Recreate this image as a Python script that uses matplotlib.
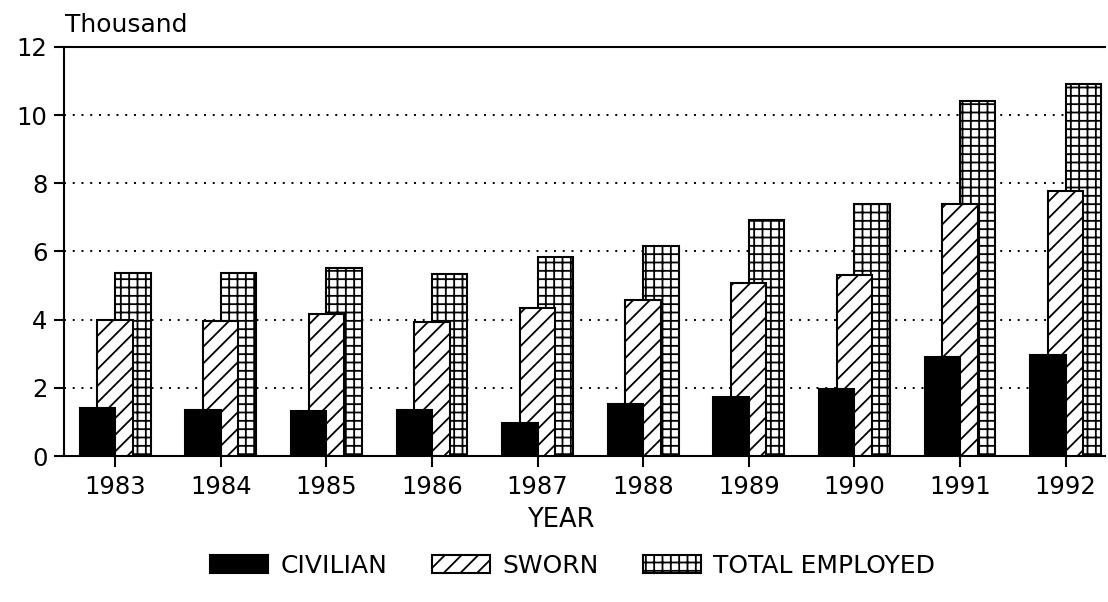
import matplotlib
matplotlib.use("Agg")
import matplotlib.pyplot as plt
import numpy as np

# Staffing levels by year, in thousands
years = ["1983", "1984", "1985", "1986", "1987", "1988", "1989", "1990", "1991", "1992"]
civilian = [1.40, 1.35, 1.32, 1.34, 0.97, 1.53, 1.74, 1.98, 2.90, 2.96]
sworn = [3.98, 3.97, 4.16, 3.94, 4.33, 4.58, 5.09, 5.31, 7.39, 7.78]
total = [5.36, 5.36, 5.52, 5.34, 5.84, 6.17, 6.92, 7.38, 10.42, 10.92]
yticks = [0, 2, 4, 6, 8, 10, 12]

plt.rcParams["font.family"] = ["DejaVu Sans"]
plt.rcParams["hatch.linewidth"] = 1.3

fig = plt.figure(figsize=(11.08, 6.02), dpi=100)
ax = fig.add_axes([0.0578, 0.2425, 0.9392, 0.6795])

x = np.arange(len(years))
w = 0.335
step = 0.168

# Back to front: total, sworn, civilian
ax.bar(x + step, total, w, facecolor="white", edgecolor="black",
       hatch="++", linewidth=1.5, zorder=2, label="TOTAL EMPLOYED")
ax.bar(x, sworn, w, facecolor="white", edgecolor="black",
       hatch="//", linewidth=1.5, zorder=3, label="SWORN")
ax.bar(x - step, civilian, w, facecolor="black", edgecolor="black",
       linewidth=1.5, zorder=4, label="CIVILIAN")

# Dotted reference lines
for v in yticks[1:-1]:
    ax.axhline(v, color="black", linestyle=(0, (1, 3.5)), linewidth=1.4, zorder=1)

ax.set_xlim(-0.484, 9.37)
ax.set_ylim(0, 12)
ax.set_yticks(yticks)
ax.set_xticks(x)
ax.set_xticklabels(years)

ax.spines["right"].set_visible(False)
for side in ["left", "bottom", "top"]:
    ax.spines[side].set_linewidth(1.5)

ax.tick_params(axis="y", direction="out", length=7, width=1.5, pad=5, labelsize=17.5)
ax.tick_params(axis="x", direction="out", length=8, width=1.5, pad=6, labelsize=17.5)

fig.text(0.0587, 0.958, "Thousand", fontsize=18, ha="left", va="center")
fig.text(0.506, 0.136, "YEAR", fontsize=18.5, ha="center", va="center")

handles, labels = ax.get_legend_handles_labels()
fig.legend(handles[::-1], labels[::-1], loc="center", bbox_to_anchor=(0.517, 0.06),
           ncol=3, frameon=False, fontsize=18, handlelength=2.3, handleheight=0.72,
           handletextpad=0.5, columnspacing=1.8)

fig.savefig("out.png", dpi=100)
